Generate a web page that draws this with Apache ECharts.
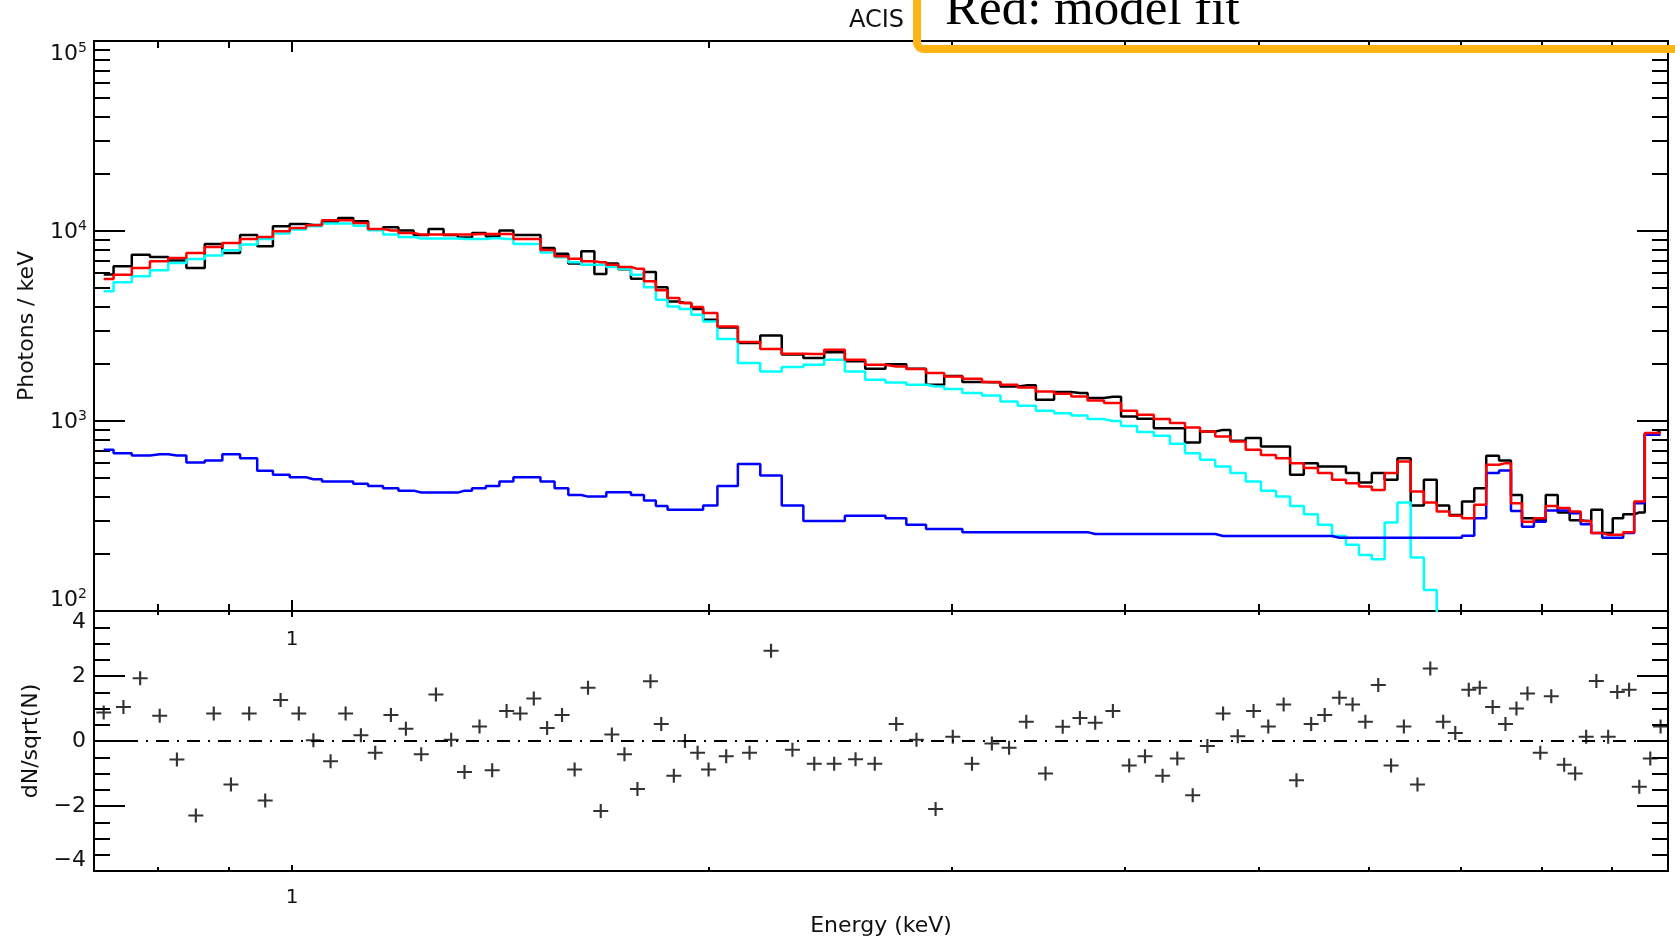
<!DOCTYPE html>
<html>
<head>
<meta charset="utf-8">
<title>ACIS spectrum</title>
<script src="https://cdn.jsdelivr.net/npm/echarts@6.0.0/dist/echarts.min.js"></script>
<style>
  html, body { margin: 0; padding: 0; background: #fff; }
  #chart { width: 1675px; height: 939px; }
</style>
</head>
<body>
<div id="chart"></div>
<script>
// bin centres (keV)
var energy = [
  0.7307, 0.7551, 0.7764, 0.8021, 0.8254, 0.8518, 0.8776, 0.9031, 0.9309, 0.9561,
  0.9809, 1.0111, 1.0359, 1.0660, 1.0930, 1.1212, 1.1482, 1.1786, 1.2084, 1.2396,
  1.2703, 1.3030, 1.3322, 1.3659, 1.3950, 1.4289, 1.4616, 1.4951, 1.5286, 1.5670,
  1.6002, 1.6363, 1.6713, 1.7025, 1.7386, 1.7766, 1.8155, 1.8484, 1.8876, 1.9229,
  1.9637, 2.0000, 2.0595, 2.1410, 2.2190, 2.2995, 2.3846, 2.4649, 2.5542, 2.6373,
  2.7329, 2.8268, 2.9182, 3.0029, 3.1004, 3.2048, 3.2979, 3.3938, 3.5041, 3.6059,
  3.7106, 3.8063, 3.9200, 4.0279, 4.1352, 4.2582, 4.3636, 4.4770, 4.5878, 4.7093,
  4.8259, 4.9544, 5.0771, 5.2088, 5.3211, 5.4529, 5.5769, 5.7150, 5.8419, 5.9678,
  6.0972, 6.2286, 6.3628, 6.5085, 6.6486, 6.7929, 6.9311, 7.0886, 7.2196, 7.3761,
  7.5350, 7.6742, 7.8162, 7.9845, 8.1321, 8.3085, 8.4621, 8.6185, 8.7659, 8.9399,
  9.0765, 9.2567, 9.4151, 9.5890, 9.7550
];
// black: data (photons / keV)
var counts = [
  5900, 6518, 7510, 7302, 7000, 6391, 8551, 7665, 9537, 8307,
  10590, 10900, 10750, 11200, 11720, 11250, 10150, 10460, 10050, 9537,
  10260, 9537, 9250, 9770, 9350, 10050, 9537, 9537, 8150, 7600,
  6750, 7818, 5943, 6737, 6300, 5614, 6087, 5050, 4250, 4180,
  3887, 3414, 3109, 2573, 2822, 2240, 2145, 2300, 2060, 1884,
  1990, 1884, 1551, 1725, 1603, 1600, 1520, 1540, 1293, 1420,
  1403, 1320, 1340, 1056, 1027, 917, 917, 771, 881, 898,
  787, 813, 734, 734, 521, 600, 576, 576, 532, 474,
  532, 490, 637, 359, 490, 359, 320, 377, 443, 656,
  619, 408, 308, 300, 408, 330, 300, 298, 341, 257,
  308, 323, 330, 860, 880
];
// red: model fit
var model = [
  5593, 5893, 6391, 6925, 7217, 7665, 8246, 8655, 9085, 9310,
  9966, 10380, 10720, 11390, 11390, 11030, 10260, 10050, 9770, 9573,
  9573, 9573, 9573, 9650, 9650, 9650, 9085, 9085, 7950, 7357,
  7153, 6925, 6850, 6653, 6470, 6320, 5433, 4872, 4441, 4180,
  3983, 3702, 3147, 2604, 2392, 2260, 2250, 2372, 2101, 1978,
  1937, 1877, 1788, 1716, 1669, 1603, 1551, 1502, 1430, 1391,
  1346, 1282, 1243, 1131, 1078, 1023, 975, 925, 881, 829,
  780, 705, 663, 637, 600, 565, 532, 490, 471, 452,
  434, 532, 612, 425, 372, 334, 317, 308, 362, 588,
  600, 369, 295, 308, 357, 348, 334, 298, 257, 252,
  252, 260, 377, 864, 864
];
// cyan: source component
var source = [
  4812, 5366, 5772, 6209, 6792, 7129, 7420, 7913, 8478, 9085,
  9689, 10170, 10590, 10940, 10940, 10670, 10085, 9573, 9310, 9120,
  9120, 9120, 9085, 9085, 9150, 9085, 8551, 8551, 7700, 7280,
  6840, 6653, 6653, 6470, 6315, 5892, 5050, 4351, 4011, 3887,
  3627, 3344, 2701, 2019, 1823, 1922, 1978, 2101, 1823, 1648,
  1596, 1551, 1520, 1473, 1403, 1363, 1267, 1203, 1131, 1100,
  1069, 1023, 1000, 940, 874, 836, 759, 677, 625, 576,
  532, 480, 429, 400, 357, 323, 284, 248, 223, 197,
  187, 292, 372, 191, 129, 60, null, null, null, null,
  null, null, null, null, null, null, null, null, null, null,
  null, null, null, null, null
];
// blue: background component
var background = [
  705, 677, 658, 668, 658, 604, 619, 668, 637, 548,
  521, 506, 494, 480, 480, 467, 455, 443, 430, 420,
  420, 420, 430, 443, 455, 480, 506, 506, 480, 443,
  408, 400, 400, 422, 422, 408, 381, 357, 341, 341,
  341, 359, 455, 593, 516, 359, 298, 298, 317, 317,
  308, 284, 270, 270, 260, 260, 260, 260, 260, 260,
  260, 254, 254, 254, 254, 254, 254, 254, 254, 248,
  248, 248, 248, 248, 248, 248, 248, 243, 243, 243,
  243, 243, 243, 243, 243, 243, 243, 249, 308, 532,
  549, 336, 278, 295, 338, 338, 327, 286, 257, 243,
  243, 257, 369, 846, 846
];
// dN/sqrt(N)
var resid = [
  0.88, 1.05, 1.93, 0.78, -0.57, -2.29, 0.85, -1.34, 0.85, -1.83,
  1.26, 0.85, 0.02, -0.62, 0.85, 0.18, -0.36, 0.80, 0.38, -0.41,
  1.43, 0.04, -0.95, 0.45, -0.90, 0.92, 0.85, 1.31, 0.40, 0.80,
  -0.88, 1.64, -2.15, 0.20, -0.41, -1.48, 1.84, 0.52, -1.07, 0.00,
  -0.36, -0.88, -0.47, -0.36, 2.78, -0.27, -0.70, -0.70, -0.56, -0.70,
  0.52, 0.04, -2.09, 0.13, -0.70, -0.08, -0.21, 0.59, -1.00, 0.44,
  0.71, 0.56, 0.92, -0.75, -0.47, -1.07, -0.54, -1.67, -0.15, 0.85,
  0.15, 0.92, 0.45, 1.12, -1.21, 0.52, 0.80, 1.33, 1.12, 0.59,
  1.72, -0.75, 0.45, -1.34, 2.23, 0.59, 0.25, 1.58, 1.64, 1.05,
  0.52, 1.00, 1.46, -0.36, 1.38, -0.73, -1.00, 0.13, 1.85, 0.13,
  1.51, 1.58, -1.41, -0.54, 0.45
];

// tick values
var xMajor = [1];
var xMinor = [0.8, 0.9, 2, 3, 4, 5, 6, 7, 8, 9];
var yMajor = [100, 1000, 10000, 100000];
var yMinor = [200, 300, 400, 500, 600, 700, 800, 900,
  2000, 3000, 4000, 5000, 6000, 7000, 8000, 9000,
  20000, 30000, 40000, 50000, 60000, 70000, 80000, 90000];

var XMIN = 0.719, XMAX = 9.876;
var FONT = 'DejaVu Sans';
var INK = '#111';
var LW = 2.5;

function pairs(ys) {
  return energy.map(function (e, i) { return [e, ys[i]]; });
}

function logX(grid, pos, ticks, len, labels, margin, extra) {
  var ax = {
    type: 'log', logBase: 10, gridIndex: grid, position: pos,
    min: XMIN, max: XMAX,
    axisLine: { show: true, onZero: false, lineStyle: { color: '#000', width: 2 } },
    axisTick: { show: true, inside: true, length: len, customValues: ticks,
      lineStyle: { color: '#000', width: 2 } },
    axisLabel: labels ? { show: true, customValues: labels, margin: margin,
      fontSize: 20, fontFamily: FONT, color: INK } : { show: false },
    splitLine: { show: false },
    minorTick: { show: false }
  };
  for (var k in extra) ax[k] = extra[k];
  return ax;
}

function logY(pos, ticks, len, labels, extra) {
  var ax = {
    type: 'log', logBase: 10, gridIndex: 0, position: pos,
    min: 100, max: 100000,
    axisLine: { show: true, onZero: false, lineStyle: { color: '#000', width: 2 } },
    axisTick: { show: true, inside: true, length: len, customValues: ticks,
      lineStyle: { color: '#000', width: 2 } },
    axisLabel: { show: false },
    splitLine: { show: false },
    minorTick: { show: false }
  };
  if (labels) {
    ax.axisLabel = {
      show: true, customValues: labels, margin: 7,
      verticalAlignMinLabel: 'bottom', verticalAlignMaxLabel: 'top',
      formatter: function (v) {
        return '{b|10}{e|' + Math.round(Math.log(v) / Math.LN10) + '}';
      },
      rich: {
        b: { fontSize: 22, fontFamily: FONT, color: INK, lineHeight: 24, verticalAlign: 'bottom' },
        e: { fontSize: 14, fontFamily: FONT, color: INK, lineHeight: 14, verticalAlign: 'top' }
      }
    };
  }
  for (var k in extra) ax[k] = extra[k];
  return ax;
}

function residY(pos, labels, extra) {
  var ax = {
    type: 'value', gridIndex: 1, position: pos,
    min: -4, max: 4, interval: 2,
    axisLine: { show: true, onZero: false, lineStyle: { color: '#000', width: 2 } },
    axisTick: { show: true, inside: true, length: 31, lineStyle: { color: '#000', width: 2 } },
    minorTick: { show: true, splitNumber: 4, length: 16, lineStyle: { color: '#000', width: 2 } },
    axisLabel: labels ? {
      show: true, margin: 8, fontSize: 22, fontFamily: FONT, color: INK,
      verticalAlignMinLabel: 'bottom', verticalAlignMaxLabel: 'top',
      formatter: function (v) { return v < 0 ? '\u2212' + (-v) : String(v); }
    } : { show: false },
    splitLine: { show: false }
  };
  for (var k in extra) ax[k] = extra[k];
  return ax;
}

var nameStyle = { fontSize: 22, fontFamily: FONT, color: INK };

var chart = echarts.init(document.getElementById('chart'), null, { renderer: 'canvas' });
chart.setOption({
  animation: false,
  backgroundColor: '#fff',
  grid: [
    { left: 94, top: 41, width: 1574, height: 570, containLabel: false, outerBoundsMode: 'none' },
    { left: 94, top: 611, width: 1574, height: 260, containLabel: false, outerBoundsMode: 'none' }
  ],
  xAxis: [
    logX(0, 'bottom', xMajor, 11, xMajor, 19),
    logX(0, 'bottom', xMinor, 7, null),
    logX(0, 'top', xMajor, 11, null),
    logX(0, 'top', xMinor, 7, null),
    logX(1, 'bottom', xMajor, 6, xMajor, 17, {
      name: 'Energy (keV)', nameLocation: 'middle', nameGap: 44, nameTextStyle: nameStyle
    }),
    logX(1, 'bottom', xMinor, 4, null),
    logX(1, 'top', xMajor, 6, null),
    logX(1, 'top', xMinor, 4, null)
  ],
  yAxis: [
    logY('left', yMajor, 31, yMajor, {
      name: 'Photons / keV', nameLocation: 'middle', nameRotate: 90, nameGap: 56,
      nameTextStyle: nameStyle
    }),
    logY('left', yMinor, 16, null),
    logY('right', yMajor, 31, null),
    logY('right', yMinor, 16, null),
    residY('left', true, {
      name: 'dN/sqrt(N)', nameLocation: 'middle', nameRotate: 90, nameGap: 50,
      nameTextStyle: nameStyle
    }),
    residY('right', false)
  ],
  series: [
    {
      name: 'data', type: 'line', xAxisIndex: 0, yAxisIndex: 0, step: 'middle',
      showSymbol: false, data: pairs(counts),
      lineStyle: { color: '#000', width: LW }, z: 2
    },
    {
      name: 'source', type: 'line', xAxisIndex: 0, yAxisIndex: 0, step: 'middle',
      showSymbol: false, data: pairs(source),
      lineStyle: { color: '#00ffff', width: LW }, z: 3
    },
    {
      name: 'background', type: 'line', xAxisIndex: 0, yAxisIndex: 0, step: 'middle',
      showSymbol: false, data: pairs(background),
      lineStyle: { color: '#0000ff', width: LW }, z: 4
    },
    {
      name: 'model', type: 'line', xAxisIndex: 0, yAxisIndex: 0, step: 'middle',
      showSymbol: false, data: pairs(model),
      lineStyle: { color: '#ff0000', width: LW }, z: 5
    },
    {
      name: 'residuals', type: 'scatter', xAxisIndex: 4, yAxisIndex: 4,
      symbol: 'path://M6,0h2v6h6v2h-6v6h-2v-6h-6v-2h6z', symbolSize: [15, 14],
      itemStyle: { color: '#000' },
      data: pairs(resid),
      markLine: {
        silent: true, symbol: ['none', 'none'], label: { show: false },
        lineStyle: { color: '#000', width: 2, type: [13, 8, 2, 8] },
        data: [{ yAxis: 0 }]
      }
    }
  ],
  graphic: [
    {
      type: 'text', x: 849, y: 21,
      style: { text: 'ACIS', font: '24px "DejaVu Sans"', fill: INK, verticalAlign: 'middle' }
    },
    {
      type: 'text', x: 945, y: 11,
      style: { text: 'Red: model fit', font: '51px "Liberation Serif"', fill: '#000', verticalAlign: 'middle' }
    },
    {
      type: 'rect', z: 100,
      shape: { x: 917, y: -40, width: 900, height: 89, r: [0, 0, 0, 7] },
      style: { fill: 'none', stroke: '#fdb515', lineWidth: 8 }
    }
  ]
});
</script>
</body>
</html>
